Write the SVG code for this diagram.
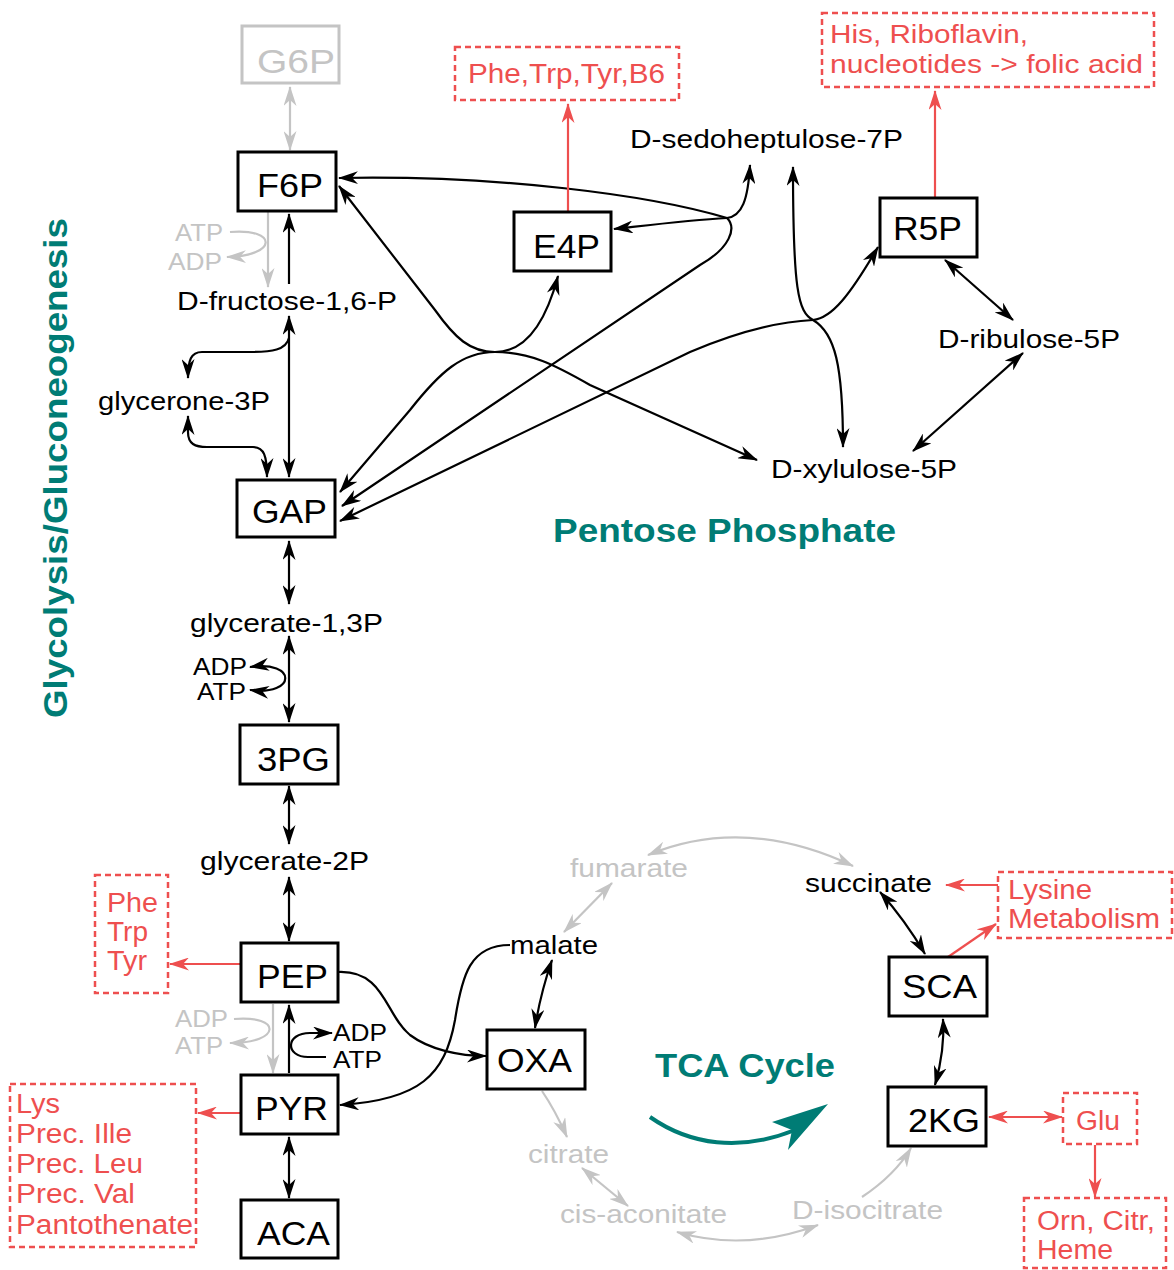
<svg xmlns="http://www.w3.org/2000/svg" width="1174" height="1270" viewBox="0 0 1174 1270">
<style>
.bx{fill:#fff;stroke:#000;stroke-width:3}
.bxg{fill:#fff;stroke:#c4c4c4;stroke-width:3}
.rb{fill:none;stroke:#ee4f4f;stroke-width:2.5;stroke-dasharray:6 4}
.nt{font-family:"Liberation Sans",Arial,sans-serif;font-size:34px;fill:#000}
.lb{font-family:"Liberation Sans",Arial,sans-serif;font-size:26px;fill:#000}
.lg{font-family:"Liberation Sans",Arial,sans-serif;font-size:26px;fill:#c4c4c4}
.sm{font-family:"Liberation Sans",Arial,sans-serif;font-size:23px;fill:#000}
.smg{font-family:"Liberation Sans",Arial,sans-serif;font-size:23px;fill:#c4c4c4}
.rt{font-family:"Liberation Sans",Arial,sans-serif;font-size:27px;fill:#ee4f4f}
.tt{font-family:"Liberation Sans",Arial,sans-serif;font-weight:bold;font-size:33px;fill:#007c75}
.k{fill:none;stroke:#000;stroke-width:2.2}
.g{fill:none;stroke:#c4c4c4;stroke-width:2.2}
.r{fill:none;stroke:#ee4f4f;stroke-width:2.2}
</style>
<defs>
<marker id="ab" viewBox="0 0 20 13" refX="19" refY="6.5" markerWidth="20" markerHeight="13" markerUnits="userSpaceOnUse" orient="auto-start-reverse"><path d="M0,0 L20,6.5 L0,13 L6,6.5 z" fill="#000"/></marker>
<marker id="ag" viewBox="0 0 20 13" refX="19" refY="6.5" markerWidth="20" markerHeight="13" markerUnits="userSpaceOnUse" orient="auto-start-reverse"><path d="M0,0 L20,6.5 L0,13 L6,6.5 z" fill="#c4c4c4"/></marker>
<marker id="ar" viewBox="0 0 20 13" refX="19" refY="6.5" markerWidth="20" markerHeight="13" markerUnits="userSpaceOnUse" orient="auto-start-reverse"><path d="M0,0 L20,6.5 L0,13 L6,6.5 z" fill="#ee4f4f"/></marker>
</defs>

<!-- Titles -->
<text class="tt" transform="translate(67,718) rotate(-90)" x="0" y="0" textLength="500" lengthAdjust="spacingAndGlyphs">Glycolysis/Gluconeogenesis</text>
<text class="tt" x="553" y="542" textLength="343" lengthAdjust="spacingAndGlyphs">Pentose Phosphate</text>
<text class="tt" x="655" y="1077" textLength="180" lengthAdjust="spacingAndGlyphs">TCA Cycle</text>

<!-- Connectors -->
<g id="connectors">
  <!-- glycolysis spine -->
  <path class="g" d="M290,87 L290,150" marker-start="url(#ag)" marker-end="url(#ag)"/>
  <path class="g" d="M268,212 L268,287" marker-end="url(#ag)"/>
  <path class="g" d="M230,232 C 278,228 278,256 227,257" marker-end="url(#ag)"/>
  <path class="k" d="M289,284 L289,214" marker-end="url(#ab)"/>
  <path class="k" d="M289,316 L289,477" marker-start="url(#ab)" marker-end="url(#ab)"/>
  <path class="k" d="M289,338 C 286,350 272,352 250,352 L 202,352 C 191,352 188,360 188,378" marker-end="url(#ab)"/>
  <path class="k" d="M188,416 L188,432 C 188,444 195,447 207,447 L 253,447 C 264,447 267,456 267,477" marker-start="url(#ab)" marker-end="url(#ab)"/>
  <path class="k" d="M289,541 L289,604" marker-start="url(#ab)" marker-end="url(#ab)"/>
  <path class="k" d="M289,636 L289,722" marker-start="url(#ab)" marker-end="url(#ab)"/>
  <path class="k" d="M250,667 C 297,660 297,696 250,690" marker-start="url(#ab)" marker-end="url(#ab)"/>
  <path class="k" d="M289,786 L289,844" marker-start="url(#ab)" marker-end="url(#ab)"/>
  <path class="k" d="M289,877 L289,941" marker-start="url(#ab)" marker-end="url(#ab)"/>
  <path class="g" d="M273,1004 L273,1073" marker-end="url(#ag)"/>
  <path class="g" d="M234,1019 C 282,1015 282,1043 230,1043" marker-end="url(#ag)"/>
  <path class="k" d="M289,1073 L289,1005" marker-end="url(#ab)"/>
  <path class="k" d="M326,1057 L 308,1057 C 285,1057 285,1033 310,1033 L 332,1033" marker-end="url(#ab)"/>
  <path class="k" d="M289,1137 L289,1198" marker-start="url(#ab)" marker-end="url(#ab)"/>
  <path class="k" d="M338,972 C 385,970 385,1015 410,1035 C 430,1050 460,1056 486,1056" marker-end="url(#ab)"/>
  <path class="k" d="M510,945 C 470,945 462,975 455,1020 C 445,1075 420,1100 340,1105" marker-end="url(#ab)"/>

  <!-- pentose phosphate -->
  <path class="k" d="M727,218 C 650,195 500,175 339,178" marker-end="url(#ab)"/>
  <path class="k" d="M727,218 C 690,220 650,225 614,229" marker-end="url(#ab)"/>
  <path class="k" d="M727,218 C 742,216 748,200 750,165" marker-end="url(#ab)"/>
  <path class="k" d="M727,218 C 737,228 730,248 700,265 L 342,506" marker-end="url(#ab)"/>
  <path class="k" d="M495,352 C 470,352 455,338 435,310 L 339,186" marker-end="url(#ab)"/>
  <path class="k" d="M495,352 C 530,352 555,365 590,385 L 757,460" marker-end="url(#ab)"/>
  <path class="k" d="M495,352 C 525,352 545,325 558,276" marker-end="url(#ab)"/>
  <path class="k" d="M495,352 C 462,352 440,372 410,410 L 340,492" marker-end="url(#ab)"/>
  <path class="k" d="M813,320 C 770,322 730,335 690,352 L 340,521" marker-end="url(#ab)"/>
  <path class="k" d="M813,320 C 798,312 793,290 793,167" marker-end="url(#ab)"/>
  <path class="k" d="M813,320 C 832,318 850,295 878,247" marker-end="url(#ab)"/>
  <path class="k" d="M813,320 C 835,333 843,365 843,447" marker-end="url(#ab)"/>
  <path class="k" d="M945,260 L1013,320" marker-start="url(#ab)" marker-end="url(#ab)"/>
  <path class="k" d="M1023,353 L913,451" marker-start="url(#ab)" marker-end="url(#ab)"/>

  <!-- TCA -->
  <path class="g" d="M648,855 Q 745,815 853,866" marker-start="url(#ag)" marker-end="url(#ag)"/>
  <path class="g" d="M612,883 L564,932" marker-start="url(#ag)" marker-end="url(#ag)"/>
  <path class="k" d="M552,960 Q 540,995 535,1028" marker-start="url(#ab)" marker-end="url(#ab)"/>
  <path class="g" d="M542,1091 Q 555,1110 567,1137" marker-end="url(#ag)"/>
  <path class="g" d="M582,1168 L628,1206" marker-start="url(#ag)" marker-end="url(#ag)"/>
  <path class="g" d="M677,1232 Q 745,1252 818,1225" marker-start="url(#ag)" marker-end="url(#ag)"/>
  <path class="g" d="M862,1197 Q 895,1175 911,1148" marker-end="url(#ag)"/>
  <path class="k" d="M880,892 Q 905,920 925,954" marker-start="url(#ab)" marker-end="url(#ab)"/>
  <path class="k" d="M943,1019 Q 945,1050 935,1085" marker-start="url(#ab)" marker-end="url(#ab)"/>
  <path d="M650,1117 C 690,1145 740,1152 795,1130" fill="none" stroke="#007c75" stroke-width="4"/>
  <path d="M828,1104 L772,1122 L792,1130 L788,1150 z" fill="#007c75"/>

  <!-- red outputs -->
  <path class="r" d="M568,211 L568,104" marker-end="url(#ar)"/>
  <path class="r" d="M935,197 L935,91" marker-end="url(#ar)"/>
  <path class="r" d="M240,964 L170,964" marker-end="url(#ar)"/>
  <path class="r" d="M240,1113 L198,1113" marker-end="url(#ar)"/>
  <path class="r" d="M998,885 L946,885" marker-end="url(#ar)"/>
  <path class="r" d="M948,957 L996,924" marker-end="url(#ar)"/>
  <path class="r" d="M989,1117 L1062,1117" marker-start="url(#ar)" marker-end="url(#ar)"/>
  <path class="r" d="M1095,1145 L1095,1197" marker-end="url(#ar)"/>
</g>

<!-- Nodes -->
<g id="G6P"><rect class="bxg" x="242" y="26" width="97" height="57"/><text class="nt" style="fill:#c4c4c4" x="257" y="73" textLength="78" lengthAdjust="spacingAndGlyphs">G6P</text></g>
<g id="F6P"><rect class="bx" x="238" y="152" width="98" height="59"/><text class="nt" x="257" y="197" textLength="66" lengthAdjust="spacingAndGlyphs">F6P</text></g>
<g id="E4P"><rect class="bx" x="514" y="212" width="97" height="59"/><text class="nt" x="533" y="258" textLength="67" lengthAdjust="spacingAndGlyphs">E4P</text></g>
<g id="R5P"><rect class="bx" x="880" y="198" width="97" height="59"/><text class="nt" x="893" y="240" textLength="69" lengthAdjust="spacingAndGlyphs">R5P</text></g>
<g id="GAP"><rect class="bx" x="237" y="480" width="98" height="57"/><text class="nt" x="252" y="523" textLength="75" lengthAdjust="spacingAndGlyphs">GAP</text></g>
<g id="P3G"><rect class="bx" x="240" y="725" width="98" height="59"/><text class="nt" x="257" y="771" textLength="73" lengthAdjust="spacingAndGlyphs">3PG</text></g>
<g id="PEP"><rect class="bx" x="241" y="943" width="97" height="59"/><text class="nt" x="257" y="988" textLength="71" lengthAdjust="spacingAndGlyphs">PEP</text></g>
<g id="PYR"><rect class="bx" x="241" y="1075" width="97" height="59"/><text class="nt" x="255" y="1120" textLength="73" lengthAdjust="spacingAndGlyphs">PYR</text></g>
<g id="ACA"><rect class="bx" x="241" y="1200" width="97" height="58"/><text class="nt" x="257" y="1245" textLength="73" lengthAdjust="spacingAndGlyphs">ACA</text></g>
<g id="OXA"><rect class="bx" x="487" y="1030" width="98" height="59"/><text class="nt" x="497" y="1072" textLength="75" lengthAdjust="spacingAndGlyphs">OXA</text></g>
<g id="SCA"><rect class="bx" x="889" y="957" width="98" height="59"/><text class="nt" x="902" y="998" textLength="75" lengthAdjust="spacingAndGlyphs">SCA</text></g>
<g id="KG2"><rect class="bx" x="888" y="1087" width="98" height="59"/><text class="nt" x="908" y="1132" textLength="72" lengthAdjust="spacingAndGlyphs">2KG</text></g>

<g id="sedoheptulose"><text class="lb" x="630" y="148" textLength="273" lengthAdjust="spacingAndGlyphs">D-sedoheptulose-7P</text></g>
<g id="fructose16"><text class="lb" x="177" y="310" textLength="220" lengthAdjust="spacingAndGlyphs">D-fructose-1,6-P</text></g>
<g id="glycerone"><text class="lb" x="98" y="410" textLength="172" lengthAdjust="spacingAndGlyphs">glycerone-3P</text></g>
<g id="ribulose"><text class="lb" x="938" y="348" textLength="182" lengthAdjust="spacingAndGlyphs">D-ribulose-5P</text></g>
<g id="xylulose"><text class="lb" x="771" y="478" textLength="186" lengthAdjust="spacingAndGlyphs">D-xylulose-5P</text></g>
<g id="glycerate13"><text class="lb" x="190" y="632" textLength="193" lengthAdjust="spacingAndGlyphs">glycerate-1,3P</text></g>
<g id="glycerate2"><text class="lb" x="200" y="870" textLength="169" lengthAdjust="spacingAndGlyphs">glycerate-2P</text></g>
<g id="malate"><text class="lb" x="510" y="954" textLength="88" lengthAdjust="spacingAndGlyphs">malate</text></g>
<g id="succinate"><text class="lb" x="805" y="892" textLength="127" lengthAdjust="spacingAndGlyphs">succinate</text></g>
<g id="fumarate"><text class="lg" x="570" y="877" textLength="118" lengthAdjust="spacingAndGlyphs">fumarate</text></g>
<g id="citrate"><text class="lg" x="528" y="1163" textLength="81" lengthAdjust="spacingAndGlyphs">citrate</text></g>
<g id="cisaconitate"><text class="lg" x="560" y="1223" textLength="167" lengthAdjust="spacingAndGlyphs">cis-aconitate</text></g>
<g id="isocitrate"><text class="lg" x="792" y="1219" textLength="151" lengthAdjust="spacingAndGlyphs">D-isocitrate</text></g>

<g id="cofactors">
  <text class="smg" x="175" y="241" textLength="48" lengthAdjust="spacingAndGlyphs">ATP</text>
  <text class="smg" x="168" y="270" textLength="54" lengthAdjust="spacingAndGlyphs">ADP</text>
  <text class="sm" x="193" y="675" textLength="54" lengthAdjust="spacingAndGlyphs">ADP</text>
  <text class="sm" x="197" y="700" textLength="49" lengthAdjust="spacingAndGlyphs">ATP</text>
  <text class="smg" x="175" y="1027" textLength="53" lengthAdjust="spacingAndGlyphs">ADP</text>
  <text class="smg" x="175" y="1054" textLength="48" lengthAdjust="spacingAndGlyphs">ATP</text>
  <text class="sm" x="333" y="1041" textLength="54" lengthAdjust="spacingAndGlyphs">ADP</text>
  <text class="sm" x="333" y="1068" textLength="49" lengthAdjust="spacingAndGlyphs">ATP</text>
</g>

<g id="out_PheTrpTyrB6"><rect class="rb" x="455" y="47" width="224" height="53"/><text class="rt" x="468" y="83" textLength="197" lengthAdjust="spacingAndGlyphs">Phe,Trp,Tyr,B6</text></g>
<g id="out_His"><rect class="rb" x="822" y="13" width="332" height="74"/><text class="rt" style="font-size:26px" x="830" y="43" textLength="198" lengthAdjust="spacingAndGlyphs">His, Riboflavin,</text><text class="rt" style="font-size:26px" x="830" y="73" textLength="313" lengthAdjust="spacingAndGlyphs">nucleotides -&gt; folic acid</text></g>
<g id="out_PheTrpTyr"><rect class="rb" x="95" y="875" width="73" height="118"/><text class="rt" x="107" y="912" textLength="51" lengthAdjust="spacingAndGlyphs">Phe</text><text class="rt" x="107" y="941" textLength="41" lengthAdjust="spacingAndGlyphs">Trp</text><text class="rt" x="107" y="970" textLength="40" lengthAdjust="spacingAndGlyphs">Tyr</text></g>
<g id="out_Lys"><rect class="rb" x="10" y="1084" width="186" height="163"/><text class="rt" x="16" y="1113" textLength="44" lengthAdjust="spacingAndGlyphs">Lys</text><text class="rt" x="16" y="1143" textLength="116" lengthAdjust="spacingAndGlyphs">Prec. Ille</text><text class="rt" x="16" y="1173" textLength="127" lengthAdjust="spacingAndGlyphs">Prec. Leu</text><text class="rt" x="16" y="1203" textLength="119" lengthAdjust="spacingAndGlyphs">Prec. Val</text><text class="rt" x="16" y="1234" textLength="177" lengthAdjust="spacingAndGlyphs">Pantothenate</text></g>
<g id="out_Lysine"><rect class="rb" x="998" y="872" width="174" height="66"/><text class="rt" x="1008" y="899" textLength="84" lengthAdjust="spacingAndGlyphs">Lysine</text><text class="rt" x="1008" y="928" textLength="152" lengthAdjust="spacingAndGlyphs">Metabolism</text></g>
<g id="out_Glu"><rect class="rb" x="1063" y="1093" width="74" height="51"/><text class="rt" x="1076" y="1130" textLength="44" lengthAdjust="spacingAndGlyphs">Glu</text></g>
<g id="out_Orn"><rect class="rb" x="1024" y="1198" width="142" height="70"/><text class="rt" x="1037" y="1230" textLength="118" lengthAdjust="spacingAndGlyphs">Orn, Citr,</text><text class="rt" x="1037" y="1259" textLength="76" lengthAdjust="spacingAndGlyphs">Heme</text></g>
</svg>
